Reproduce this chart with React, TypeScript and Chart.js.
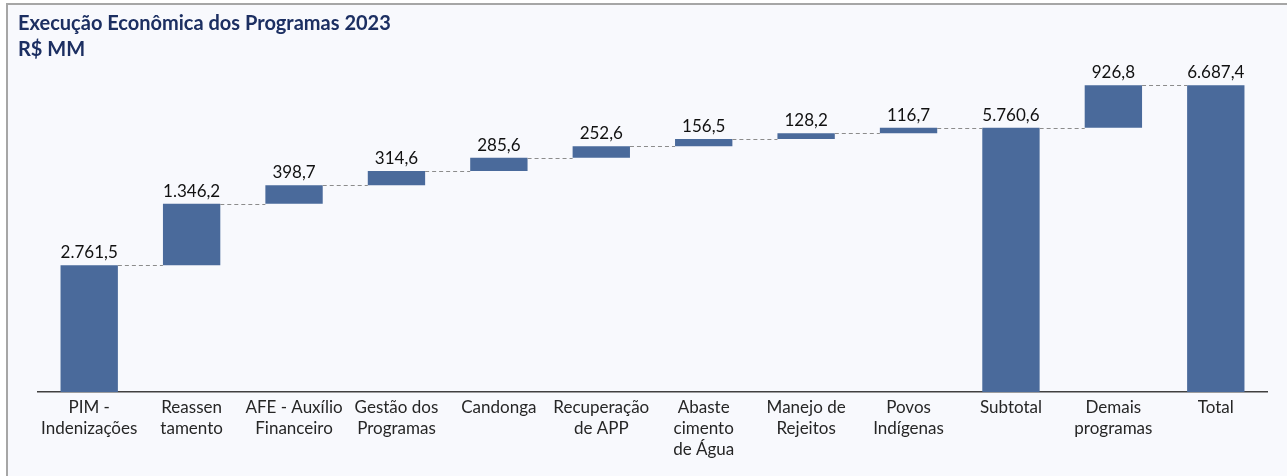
import React, { useEffect, useRef } from "react";
import { Chart, registerables } from "chart.js";

Chart.register(...registerables);

const categories: string[][] = [
  ["PIM -", "Indenizações"],
  ["Reassen", "tamento"],
  ["AFE - Auxílio", "Financeiro"],
  ["Gestão dos", "Programas"],
  ["Candonga"],
  ["Recuperação", "de APP"],
  ["Abaste", "cimento", "de Água"],
  ["Manejo de", "Rejeitos"],
  ["Povos", "Indígenas"],
  ["Subtotal"],
  ["Demais", "programas"],
  ["Total"],
];
const values: number[] = [2761.5, 1346.2, 398.7, 314.6, 285.6, 252.6, 156.5, 128.2, 116.7, 5760.6, 926.8, 6687.4];
const isTotal: boolean[] = [false, false, false, false, false, false, false, false, false, true, false, true];
const valueLabels: string[] = ["2.761,5", "1.346,2", "398,7", "314,6", "285,6", "252,6", "156,5", "128,2", "116,7", "5.760,6", "926,8", "6.687,4"];

const FONT = "Lato, 'Open Sans', sans-serif";

function buildRanges(): [number, number][] {
  const out: [number, number][] = [];
  let run = 0;
  values.forEach((v, i) => {
    if (isTotal[i]) {
      out.push([0, v]);
      run = v;
    } else {
      out.push([run, run + v]);
      run += v;
    }
  });
  return out;
}

const waterfallPlugin = {
  id: "waterfallExtras",
  afterDatasetsDraw(chart: any) {
    const ctx = chart.ctx;
    const meta = chart.getDatasetMeta(0);
    const yScale = chart.scales.y;
    const ranges = chart.data.datasets[0].data as [number, number][];
    ctx.save();
    ctx.strokeStyle = "#8c8c8c";
    ctx.lineWidth = 1;
    ctx.setLineDash([4, 3]);
    for (let i = 0; i < meta.data.length - 1; i++) {
      const a = meta.data[i];
      const b = meta.data[i + 1];
      const y = Math.round(yScale.getPixelForValue(ranges[i][1])) + 0.5;
      ctx.beginPath();
      ctx.moveTo(a.x + a.width / 2, y);
      ctx.lineTo(b.x - b.width / 2, y);
      ctx.stroke();
    }
    ctx.setLineDash([]);
    ctx.fillStyle = "#111111";
    ctx.font = `17px ${FONT}`;
    ctx.textAlign = "center";
    ctx.textBaseline = "bottom";
    meta.data.forEach((el: any, i: number) => {
      const top = yScale.getPixelForValue(Math.max(ranges[i][0], ranges[i][1]));
      ctx.fillText(valueLabels[i], el.x, top - 4);
    });
    ctx.restore();
  },
};

export default function App() {
  const ref = useRef<HTMLCanvasElement | null>(null);
  useEffect(() => {
    document.body.style.margin = "0";
    const chart = new Chart(ref.current as HTMLCanvasElement, {
      type: "bar",
      data: {
        labels: categories,
        datasets: [
          {
            data: buildRanges() as any,
            backgroundColor: "#4a6a9b",
            borderWidth: 0,
            borderSkipped: false,
            barPercentage: 0.56,
            categoryPercentage: 1,
          },
        ],
      },
      options: {
        animation: false,
        responsive: false,
        maintainAspectRatio: false,
        layout: { padding: { left: 38, right: 20, top: 71, bottom: 0 } },
        plugins: { legend: { display: false }, tooltip: { enabled: false }, title: { display: false } },
        scales: {
          y: { display: false, min: 0, max: 7000 },
          x: {
            grid: { display: false, drawTicks: false },
            border: { display: true, color: "#404040", width: 1.5 },
            ticks: {
              color: "#262626",
              font: { family: FONT, size: 17, lineHeight: 1.24 },
              padding: 5,
              maxRotation: 0,
              autoSkip: false,
            },
            afterFit: (s: any) => {
              s.height = 84;
            },
          },
        },
      },
      plugins: [waterfallPlugin],
    });
    return () => chart.destroy();
  }, []);

  return (
    <div style={{ position: "relative", width: 1287, height: 476, background: "#ffffff", overflow: "hidden" }}>
      <div
        style={{
          position: "absolute",
          left: 6,
          top: 3,
          width: 1300,
          height: 500,
          borderLeft: "2px solid #a6a6a6",
          borderTop: "2px solid #a6a6a6",
          background: "#f8f9fd",
        }}
      />
      <canvas ref={ref} width={1287} height={476} style={{ position: "absolute", left: 0, top: 0 }} />
      <div
        style={{
          position: "absolute",
          left: 18,
          top: 9,
          fontFamily: FONT,
          fontWeight: 700,
          fontSize: 20,
          lineHeight: "26px",
          color: "#1c2f62",
        }}
      >
        <div>Execução Econômica dos Programas 2023</div>
        <div>R$ MM</div>
      </div>
    </div>
  );
}
